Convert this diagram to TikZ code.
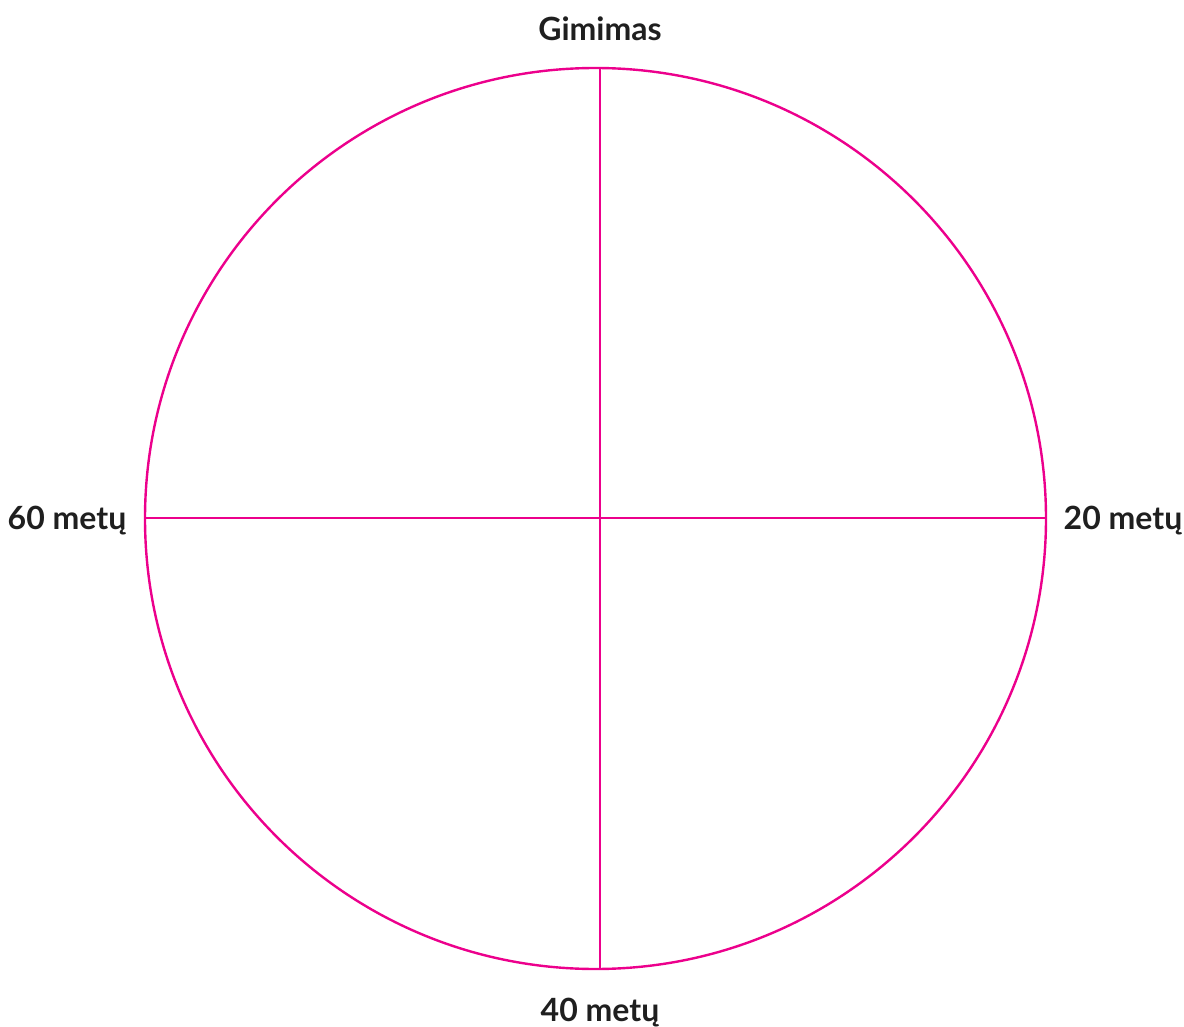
\documentclass[tikz,border=0pt]{standalone}
\usepackage{fontspec}
\setmainfont{Lato}
\definecolor{mag}{HTML}{EC008C}
\begin{document}
\begin{tikzpicture}[x=1pt,y=-1pt,
  lbl/.style={font=\fontsize{32}{36}\selectfont\bfseries, text=black!88, inner sep=0pt, anchor=base},
  ring/.style={draw=mag, line width=2.4pt}]
\useasboundingbox (0,0) rectangle (1184,1027);
\draw[ring] (595.5,518.5) ellipse [x radius=450.5, y radius=450.5];
\coordinate (T) at (600,68);
\coordinate (B) at (600,969);
\coordinate (L) at (145,518);
\coordinate (R) at (1046,518);
\draw[ring] (T) -- (B);
\draw[ring] (L) -- (R);
\node[lbl] (g) at (600,41) {Gimimas};
\node[lbl] (s) at (67,529) {60 metų};
\node[lbl] (t) at (1123,529) {20 metų};
\node[lbl] (f) at (600,1021) {40 metų};
\end{tikzpicture}
\end{document}
